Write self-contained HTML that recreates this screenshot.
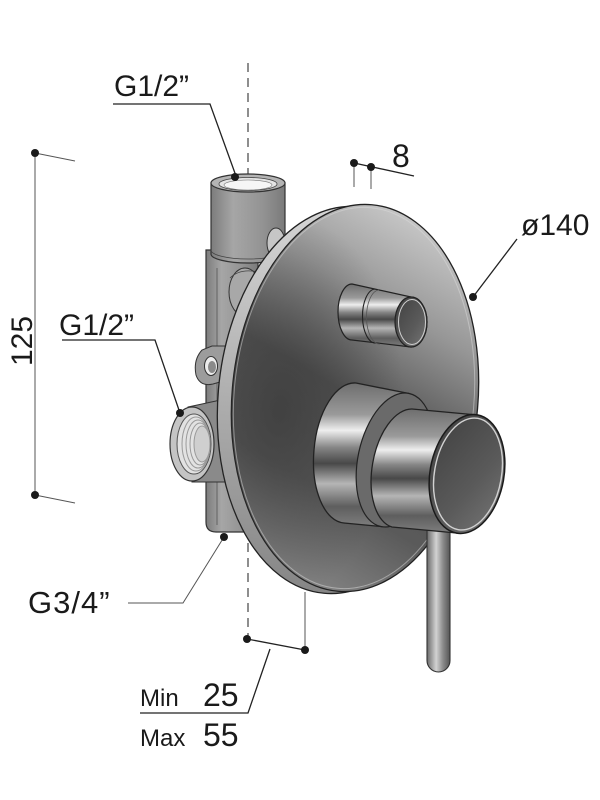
<!DOCTYPE html>
<html><head><meta charset="utf-8">
<style>
html,body{margin:0;padding:0;background:#fff;width:600px;height:800px;overflow:hidden}
svg{display:block}
text{font-family:"Liberation Sans",Arial,sans-serif;fill:#1a1a1a}
</style></head><body>
<svg width="600" height="800" viewBox="0 0 600 800" xmlns="http://www.w3.org/2000/svg">
<defs>
 <linearGradient id="disc" x1="0.65" y1="0" x2="0.35" y2="1">
  <stop offset="0" stop-color="#cacaca"/>
  <stop offset="0.25" stop-color="#969696"/>
  <stop offset="0.5" stop-color="#545454"/>
  <stop offset="0.75" stop-color="#5a5a5a"/>
  <stop offset="1" stop-color="#858585"/>
 </linearGradient>
 <radialGradient id="discdark" cx="0.2" cy="0.55" r="0.5">
  <stop offset="0" stop-color="#333" stop-opacity="0.6"/>
  <stop offset="1" stop-color="#333" stop-opacity="0"/>
 </radialGradient>
 <linearGradient id="rim" x1="0" y1="0" x2="0" y2="1">
  <stop offset="0" stop-color="#d6d6d6"/>
  <stop offset="0.5" stop-color="#b0b0b0"/>
  <stop offset="1" stop-color="#868686"/>
 </linearGradient>
 <linearGradient id="cyl" x1="0" y1="0" x2="0" y2="1">
  <stop offset="0" stop-color="#6e6e6e"/>
  <stop offset="0.22" stop-color="#9a9a9a"/>
  <stop offset="0.33" stop-color="#eeeeee"/>
  <stop offset="0.45" stop-color="#858585"/>
  <stop offset="0.56" stop-color="#484848"/>
  <stop offset="0.7" stop-color="#b5b5b5"/>
  <stop offset="0.86" stop-color="#5e5e5e"/>
  <stop offset="1" stop-color="#7e7e7e"/>
 </linearGradient>
 <linearGradient id="face" x1="0" y1="0" x2="1" y2="1">
  <stop offset="0" stop-color="#404040"/>
  <stop offset="0.6" stop-color="#5a5a5a"/>
  <stop offset="1" stop-color="#767676"/>
 </linearGradient>
 <linearGradient id="rod" x1="0" y1="0" x2="1" y2="0">
  <stop offset="0" stop-color="#6a6a6a"/>
  <stop offset="0.4" stop-color="#d2d2d2"/>
  <stop offset="0.7" stop-color="#8a8a8a"/>
  <stop offset="1" stop-color="#555555"/>
 </linearGradient>
 <linearGradient id="pipe" x1="0" y1="0" x2="1" y2="0">
  <stop offset="0" stop-color="#7c7c7c"/>
  <stop offset="0.3" stop-color="#a6a6a6"/>
  <stop offset="0.7" stop-color="#939393"/>
  <stop offset="1" stop-color="#7a7a7a"/>
 </linearGradient>
</defs>

<!-- center dashed line -->
<line x1="248" y1="63" x2="248" y2="639" stroke="#444" stroke-width="1.2" stroke-dasharray="9 6"/>

<!-- valve body -->
<path d="M206,250 L206,522 Q206,532 216,532 L258,532 L258,250 Z" fill="url(#pipe)" stroke="#333" stroke-width="1.2"/>
<line x1="217" y1="268" x2="217" y2="525" stroke="#555" stroke-width="0.8"/>
<path d="M211,183 L211,254 A37,9 0 0 0 285,254 L285,183 Z" fill="url(#pipe)" stroke="#333" stroke-width="1.2"/>
<path d="M211,250 A37,9 0 0 0 285,250" fill="none" stroke="#444" stroke-width="0.8"/>
<ellipse cx="248" cy="183" rx="37" ry="9" fill="#b4b4b4" stroke="#333" stroke-width="1.2"/>
<ellipse cx="248" cy="184" rx="29" ry="6.5" fill="#e4e4e4" stroke="#444" stroke-width="0.8"/>
<ellipse cx="248" cy="185" rx="24" ry="5" fill="#f6f6f6" stroke="#777" stroke-width="0.6"/>
<ellipse cx="276" cy="243" rx="9" ry="15" fill="#c6c6c6" stroke="#333" stroke-width="1"/>
<ellipse cx="245" cy="292" rx="16" ry="24" fill="#a8a8a8" stroke="#333" stroke-width="1"/>
<path d="M230,278 Q240,268 258,272" fill="none" stroke="#444" stroke-width="0.8"/>

<!-- lug -->
<path d="M202,350 Q193,360 196,375 Q200,387 213,384 L234,378 L234,346 L212,346 Z" fill="#9c9c9c" stroke="#333" stroke-width="1"/>
<ellipse cx="211" cy="366" rx="6.5" ry="9.5" fill="#ececec" stroke="#333" stroke-width="1"/>
<ellipse cx="212" cy="367" rx="4" ry="6" fill="#8a8a8a"/>

<!-- left fitting -->
<path d="M188,407 L230,398 L234,482 L192,482 Z" fill="#8a8a8a" stroke="#333" stroke-width="1"/>
<ellipse cx="192" cy="444" rx="22" ry="37" fill="#c4c4c4" stroke="#333" stroke-width="1.2"/>
<ellipse cx="194" cy="444" rx="17" ry="30" fill="#e2e2e2" stroke="#555" stroke-width="1"/>
<ellipse cx="196" cy="444" rx="14" ry="27" fill="none" stroke="#9a9a9a" stroke-width="1"/>
<ellipse cx="198" cy="444" rx="12" ry="24" fill="none" stroke="#9a9a9a" stroke-width="1"/>
<ellipse cx="200" cy="444" rx="10" ry="21" fill="none" stroke="#9a9a9a" stroke-width="1"/>
<ellipse cx="202" cy="444" rx="8" ry="18" fill="#cfcfcf" stroke="#9a9a9a" stroke-width="1"/>

<!-- disc plate -->
<ellipse cx="341" cy="400" rx="123" ry="194" transform="rotate(5 341 400)" fill="url(#rim)" stroke="#222" stroke-width="1.3"/>
<ellipse cx="355" cy="398" rx="123" ry="194" transform="rotate(5 355 398)" fill="url(#disc)" stroke="#222" stroke-width="1.3"/>
<ellipse cx="355" cy="398" rx="123" ry="194" transform="rotate(5 355 398)" fill="url(#discdark)"/>
<ellipse cx="354" cy="398" rx="120" ry="191" transform="rotate(5 354 398)" fill="none" stroke="#dcdcdc" stroke-opacity="0.5" stroke-width="1"/>

<!-- button -->
<path d="M352,284 L411,297 A16,25 0 0 1 411,347 L352,340 A14,28 0 0 1 352,284 Z" fill="url(#cyl)" stroke="#222" stroke-width="1.2"/>
<path d="M375,289 A13,27 0 0 0 376,343" fill="none" stroke="#222" stroke-width="1.1"/>
<path d="M379,290 A13,27 0 0 0 380,344" fill="none" stroke="#555" stroke-width="0.8"/>
<ellipse cx="411" cy="322" rx="16" ry="25" fill="url(#face)" stroke="#222" stroke-width="1.2"/>
<ellipse cx="412" cy="322" rx="13.5" ry="22.5" fill="none" stroke="#cfcfcf" stroke-width="1"/>

<!-- lever -->
<rect x="427" y="515" width="23" height="157" rx="11.5" fill="url(#rod)" stroke="#333" stroke-width="1.1"/>

<!-- knob collar -->
<path d="M356,383 L409,393.5 A37,68 12 0 1 381,526.5 L344,523 A36,70 5 0 1 356,383 Z" fill="url(#cyl)" stroke="#222" stroke-width="1.3"/>
<ellipse cx="395" cy="460" rx="37" ry="68" transform="rotate(12 395 460)" fill="#6a6a6a" stroke="#222" stroke-width="1.2"/>
<!-- handle -->
<path d="M412,409 L477.4,415 A37,60 10 0 1 456.6,533 L392,527 A32,60 10 0 1 412,409 Z" fill="url(#cyl)" stroke="#222" stroke-width="1.3"/>
<ellipse cx="467" cy="474" rx="37" ry="60" transform="rotate(10 467 474)" fill="url(#face)" stroke="#1a1a1a" stroke-width="1.5"/>
<ellipse cx="468" cy="474" rx="33.5" ry="56.5" transform="rotate(10 468 474)" fill="none" stroke="#d2d2d2" stroke-width="1.4"/>

<!-- annotations -->
<g stroke="#222" stroke-width="1.3" fill="none">
 <polyline points="113,104 210,104 236,176"/>
 <polyline points="62,340 155,340 180,413"/>
 <line x1="354" y1="163" x2="414" y2="176"/>
 <line x1="517" y1="239" x2="473" y2="297"/>
 <line x1="247" y1="639" x2="305" y2="650"/>
 <polyline points="270,649 248,713 140,713"/>
</g>
<g stroke="#555" stroke-width="1" fill="none">
 <polyline points="128,603 183,603 224,537"/>
 <line x1="35" y1="153" x2="35" y2="495"/>
 <line x1="35" y1="153" x2="75" y2="161"/>
 <line x1="35" y1="495" x2="75" y2="503"/>
 <line x1="354" y1="163" x2="354" y2="187"/>
 <line x1="371" y1="167" x2="371" y2="189"/>
 <line x1="305" y1="592" x2="305" y2="650"/>
</g>
<g fill="#1a1a1a">
 <circle cx="235" cy="177" r="4"/>
 <circle cx="180" cy="413" r="4"/>
 <circle cx="224" cy="537" r="4"/>
 <circle cx="35" cy="153" r="4"/>
 <circle cx="35" cy="495" r="4"/>
 <circle cx="354" cy="163" r="4"/>
 <circle cx="371" cy="167" r="4"/>
 <circle cx="473" cy="297" r="4"/>
 <circle cx="247" cy="639" r="4"/>
 <circle cx="305" cy="650" r="4"/>
</g>

<text x="114" y="96" font-size="30">G1/2”</text>
<text x="59" y="335" font-size="30">G1/2”</text>
<text x="28" y="613" font-size="31" letter-spacing="1">G3/4”</text>
<text x="392" y="167" font-size="32">8</text>
<text x="521" y="235" font-size="30">ø140</text>
<text transform="translate(32 341) rotate(-90)" font-size="30" text-anchor="middle">125</text>
<text x="140" y="706" font-size="24">Min</text>
<text x="203" y="706" font-size="32">25</text>
<text x="140" y="746" font-size="24">Max</text>
<text x="203" y="746" font-size="32">55</text>
</svg>
</body></html>
